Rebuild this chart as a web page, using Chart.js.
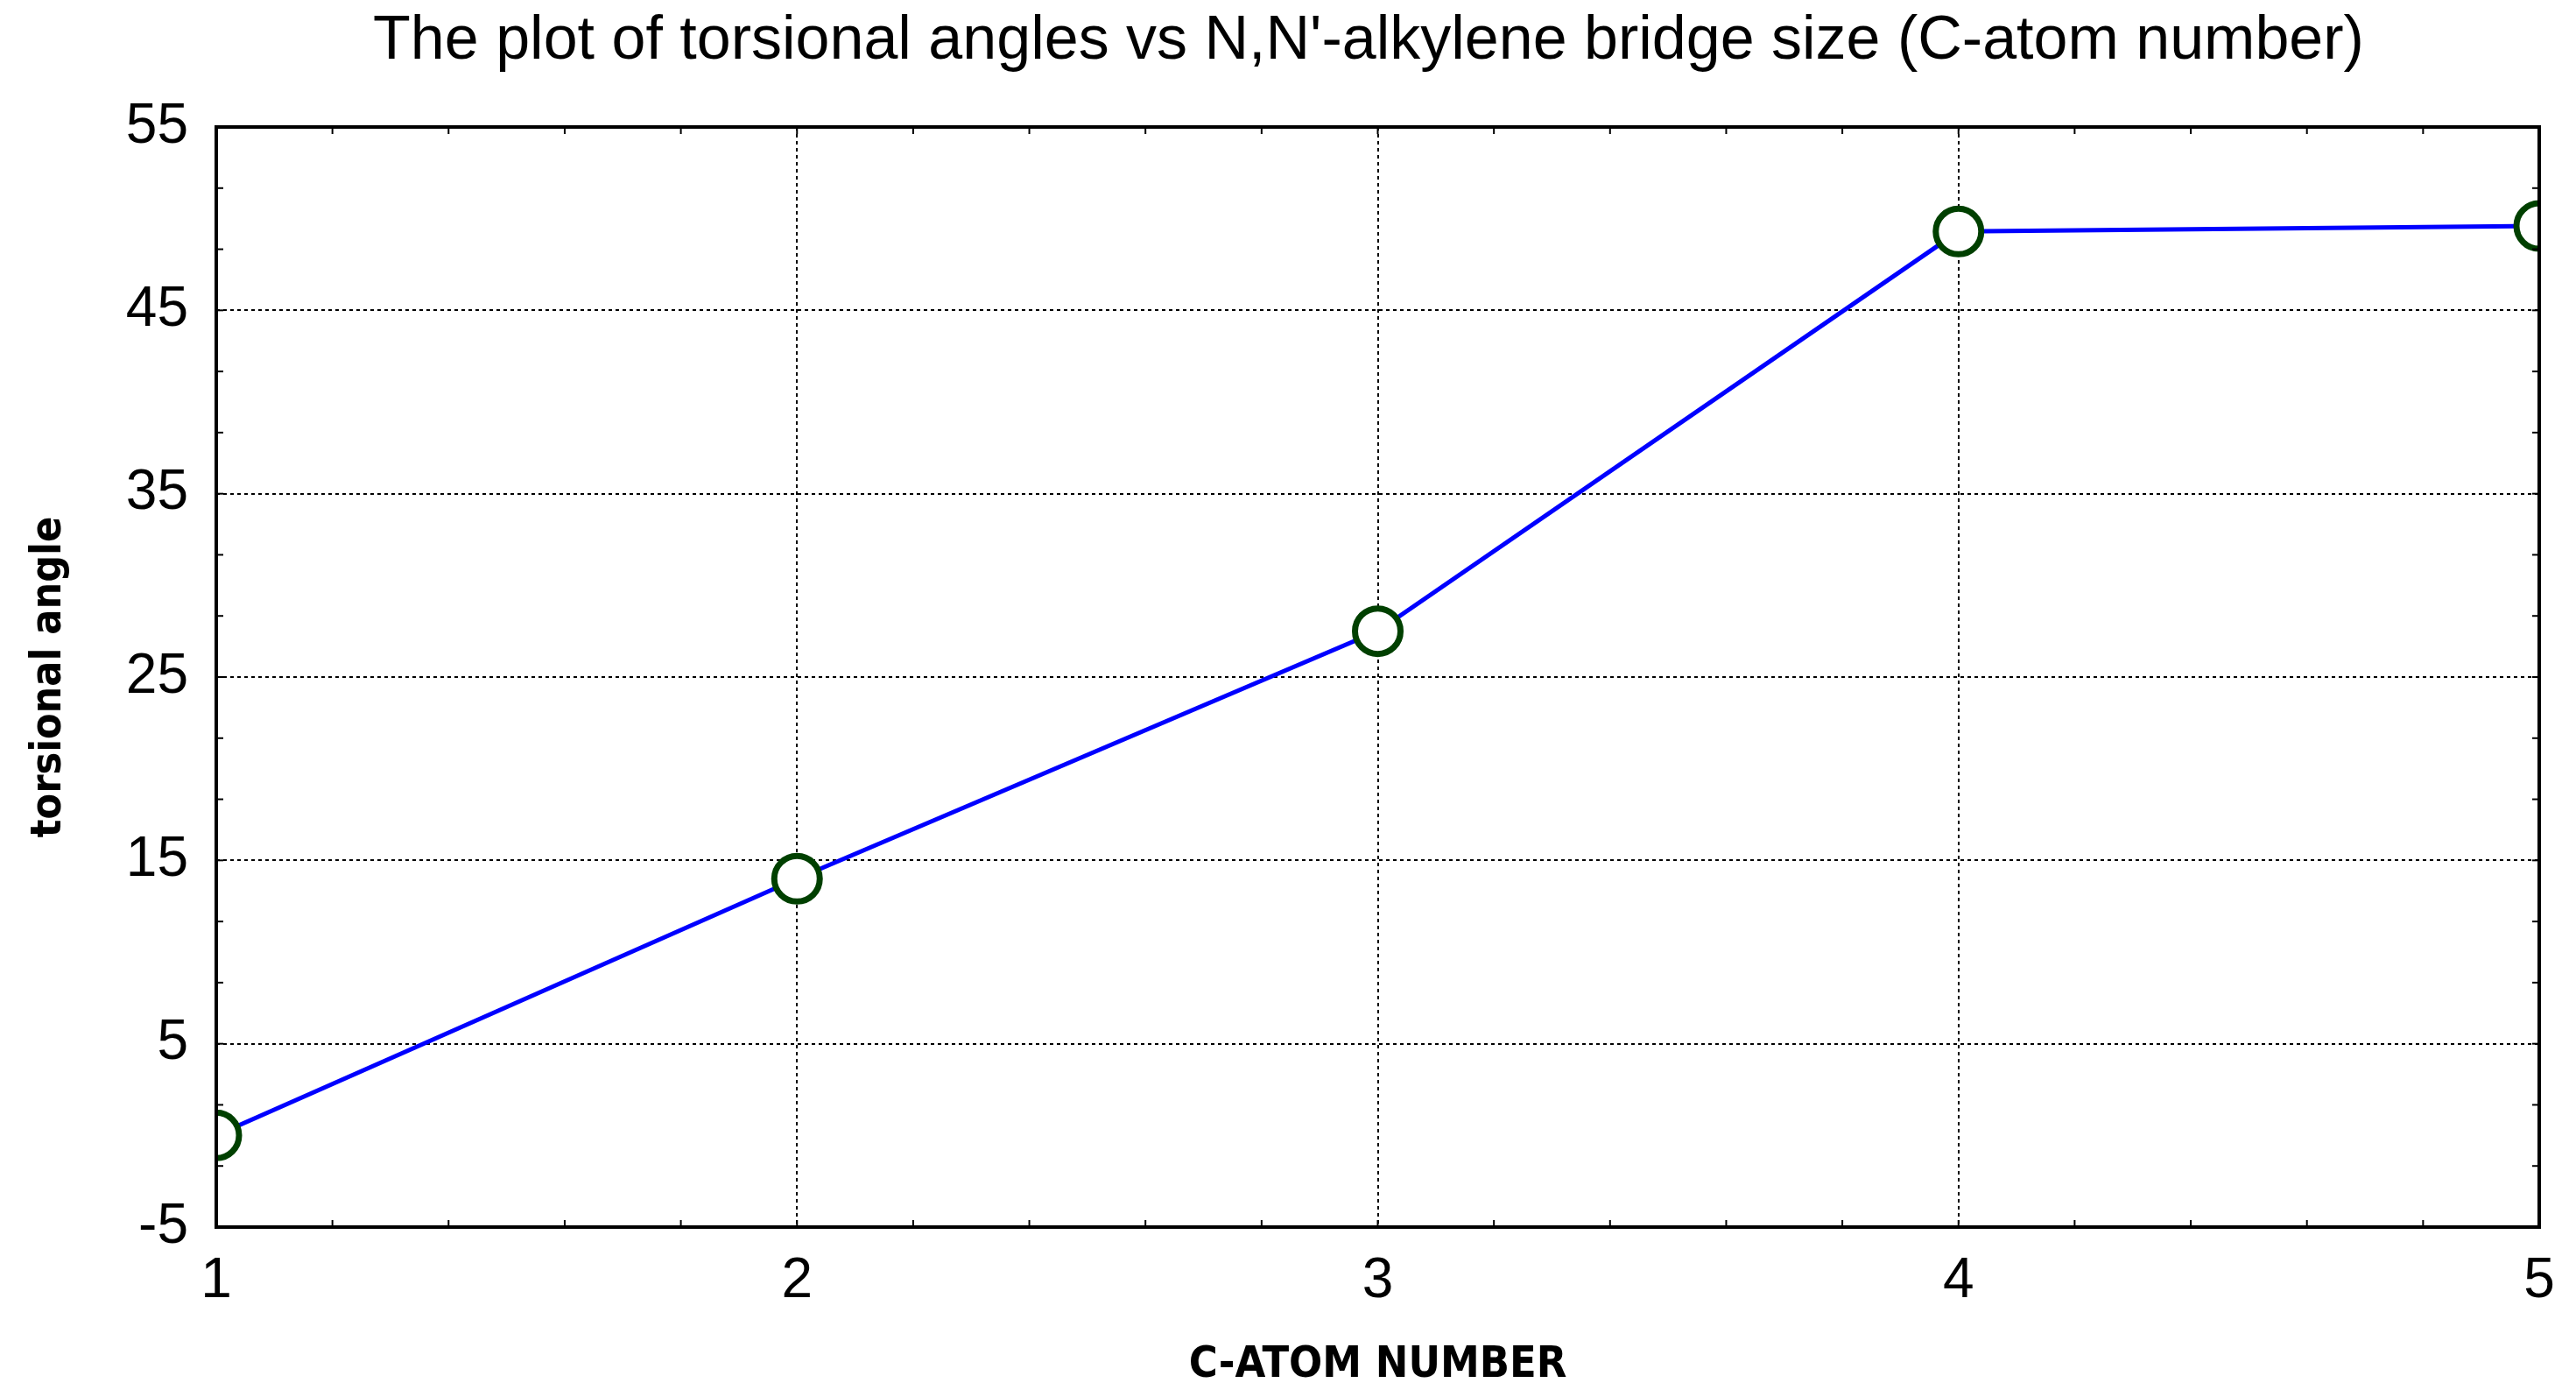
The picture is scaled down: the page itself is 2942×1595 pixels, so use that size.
<!DOCTYPE html>
<html>
<head>
<meta charset="utf-8">
<script src="https://cdn.jsdelivr.net/npm/chart.js@4.4.0/dist/chart.umd.min.js"></script>
<style>
  html, body { margin: 0; padding: 0; background: #fff; }
  #wrap { width: 2942px; height: 1595px; }
</style>
</head>
<body>
<div id="wrap"><canvas id="c" width="2942" height="1595"></canvas></div>
<script>
const atomNumbers = [1, 2, 3, 4, 5];
const torsionalAngles = [0, 14, 27.5, 49.3, 49.6];
const yTicks = [-5, 5, 15, 25, 35, 45, 55];
const chartTitle = "The plot of torsional angles vs N,N'-alkylene bridge size (C-atom number)";

// frame, minor ticks and title
const extras = {
    id: 'extras',
    afterDraw(chart) {
        const ctx = chart.ctx;
        const a = chart.chartArea;
        const x = chart.scales.x, y = chart.scales.y;
        ctx.save();
        ctx.strokeStyle = '#000';
        ctx.lineWidth = 2;
        for (let v = 1; v < 5; v += 0.2) {
            const px = x.getPixelForValue(v);
            ctx.beginPath(); ctx.moveTo(px, a.bottom); ctx.lineTo(px, a.bottom - 8); ctx.stroke();
            ctx.beginPath(); ctx.moveTo(px, a.top); ctx.lineTo(px, a.top + 8); ctx.stroke();
        }
        for (let v = -5; v < 55; v += 10 / 3) {
            const py = y.getPixelForValue(v);
            ctx.beginPath(); ctx.moveTo(a.left, py); ctx.lineTo(a.left + 8, py); ctx.stroke();
            ctx.beginPath(); ctx.moveTo(a.right, py); ctx.lineTo(a.right - 8, py); ctx.stroke();
        }
        ctx.lineWidth = 4;
        ctx.strokeRect(a.left, a.top, a.right - a.left, a.bottom - a.top);
        ctx.fillStyle = '#000';
        ctx.font = '70px "Liberation Sans", Arial, sans-serif';
        ctx.textAlign = 'center';
        ctx.textBaseline = 'middle';
        ctx.fillText(chartTitle, 1563, 48);
        ctx.restore();
    }
};

new Chart(document.getElementById('c'), {
    type: 'line',
    data: {
        datasets: [{
            data: atomNumbers.map((n, i) => ({ x: n, y: torsionalAngles[i] })),
            borderColor: '#0000ff',
            borderWidth: 5,
            pointRadius: 26,
            pointBorderWidth: 7,
            pointBorderColor: '#004000',
            pointBackgroundColor: '#ffffff',
            tension: 0
        }]
    },
    options: {
        responsive: false,
        animation: false,
        devicePixelRatio: 1,
        layout: { padding: { top: 145, right: 42 } },
        plugins: { legend: { display: false }, tooltip: { enabled: false } },
        scales: {
            x: {
                type: 'linear', min: 1, max: 5,
                afterFit: s => { s.height = 194; },
                afterBuildTicks: s => { s.ticks = atomNumbers.map(v => ({ value: v })); },
                grid: { color: '#000', lineWidth: 2, drawTicks: false },
                border: { display: false, dash: [4, 4] },
                ticks: { color: '#000', padding: 24, font: { size: 64, family: '"Liberation Sans", Arial' } },
                title: {
                    display: true, text: 'C-ATOM NUMBER', color: '#000',
                    font: { size: 50, weight: 'bold', family: '"DejaVu Sans Condensed", "DejaVu Sans"' },
                    padding: { top: 0, bottom: 6 }
                }
            },
            y: {
                min: -5, max: 55,
                afterFit: s => { s.width = 247; },
                afterBuildTicks: s => { s.ticks = yTicks.map(v => ({ value: v })); },
                grid: { color: '#000', lineWidth: 2, drawTicks: false },
                border: { display: false, dash: [4, 4] },
                ticks: { color: '#000', padding: 32, font: { size: 64, family: '"Liberation Sans", Arial' } },
                title: {
                    display: true, text: 'torsional angle', color: '#000',
                    font: { size: 48, weight: 'bold', family: '"DejaVu Sans Condensed", "DejaVu Sans"' },
                    padding: { top: 28, bottom: 0 }
                }
            }
        }
    },
    plugins: [extras]
});
</script>
</body>
</html>
